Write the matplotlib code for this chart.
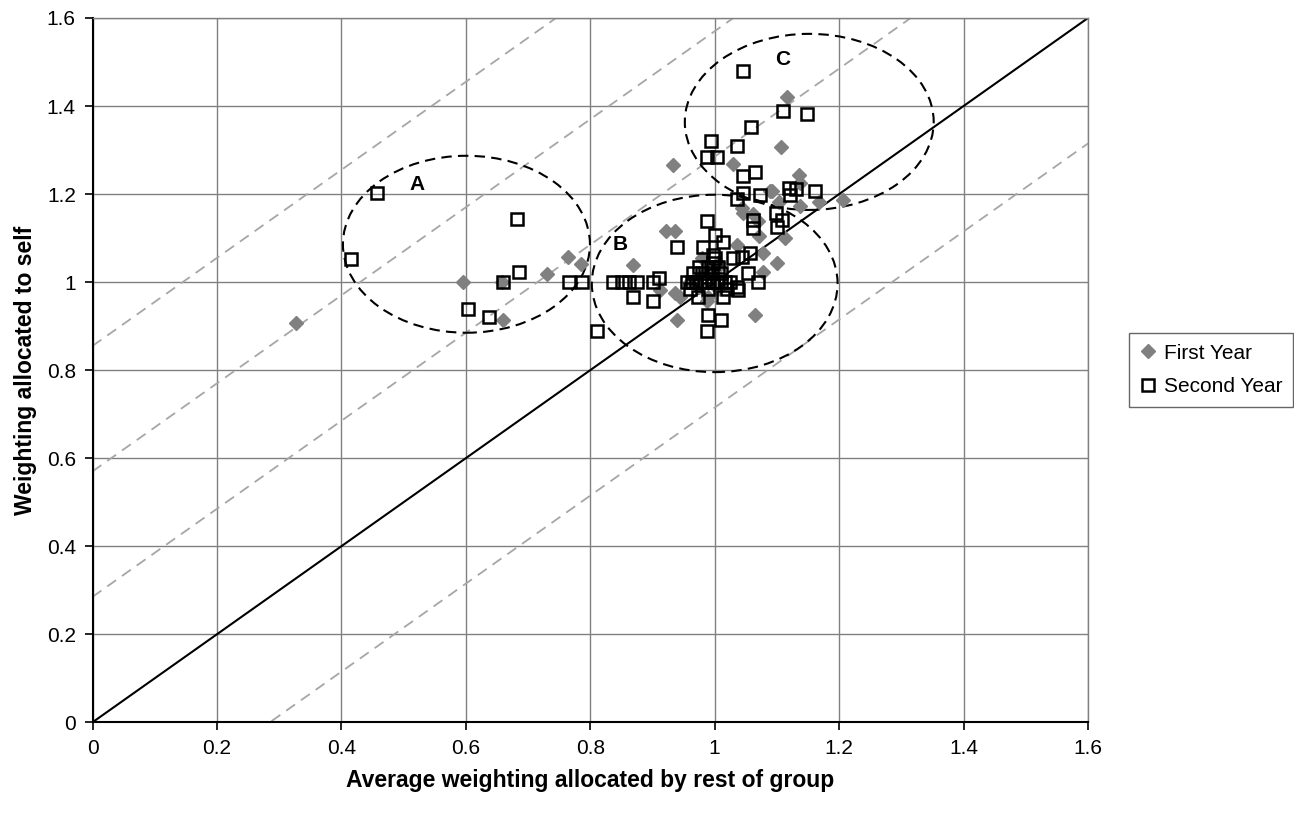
import matplotlib
matplotlib.use("Agg")
import matplotlib.pyplot as plt
from matplotlib.patches import Ellipse
import numpy as np

plt.rcParams['font.family'] = ['Liberation Sans', 'DejaVu Sans']

# First Year (grey diamonds)
first_x = [0.327, 0.595, 0.658, 0.659, 0.730, 0.765, 0.785,
           0.868, 0.912, 0.922, 0.936, 0.936, 0.944, 0.939, 0.933,
           0.980, 0.987, 0.990, 1.006, 1.006, 0.960, 0.985, 1.000, 0.975, 1.005,
           1.030, 1.036, 1.044, 1.045, 1.065, 1.070, 1.072, 1.078, 1.078, 1.089,
           1.092, 1.100, 1.103, 1.106, 1.113, 1.116, 1.135, 1.137, 1.137, 1.167, 1.207, 1.062]
first_y = [0.907, 1.001, 1.001, 0.914, 1.019, 1.057, 1.042,
           1.039, 0.983, 1.117, 1.117, 0.975, 0.967, 0.914, 1.267,
           1.055, 0.956, 0.967, 1.043, 1.035, 1.000, 1.020, 1.010, 0.990, 0.985,
           1.269, 1.085, 1.168, 1.158, 0.926, 1.138, 1.104, 1.066, 1.024, 1.206,
           1.206, 1.043, 1.183, 1.307, 1.100, 1.420, 1.244, 1.225, 1.172, 1.183, 1.187, 1.155]

# Second Year (hollow squares)
second_x = [0.415, 0.457, 0.604, 0.637, 0.659, 0.682, 0.685, 0.766, 0.786, 0.811,
            0.837, 0.851, 0.862, 0.875, 0.868, 0.901, 0.901, 0.910, 0.939, 0.981,
            0.987, 1.001, 1.014, 1.001, 0.973, 1.013, 1.038, 0.990, 1.010, 0.987,
            1.030, 1.044, 1.057, 1.054, 1.070, 1.036, 1.061, 1.061, 1.099, 1.108,
            1.100, 1.045, 1.065, 0.987, 1.003, 1.045, 1.036, 1.073, 1.119, 1.130,
            1.121, 1.162, 1.045, 1.110, 1.148, 1.058, 0.994, 1.036,
            0.955, 0.963, 0.970, 0.977, 0.984, 0.990, 0.997, 1.003, 1.010, 1.017,
            1.024, 0.965, 0.980, 0.995, 1.010, 0.975, 0.990, 1.005, 0.960, 0.990,
            1.020, 0.998, 0.998]
second_y = [1.052, 1.202, 0.939, 0.920, 1.001, 1.143, 1.024, 1.001, 1.001, 0.888,
            1.001, 1.001, 1.001, 1.001, 0.966, 1.001, 0.956, 1.010, 1.080, 1.080,
            1.138, 1.108, 1.092, 1.055, 0.967, 0.967, 0.982, 0.926, 0.914, 0.888,
            1.055, 1.058, 1.066, 1.020, 1.001, 0.990, 1.142, 1.123, 1.156, 1.140,
            1.126, 1.242, 1.251, 1.284, 1.284, 1.202, 1.189, 1.199, 1.214, 1.211,
            1.199, 1.206, 1.479, 1.388, 1.382, 1.352, 1.320, 1.310,
            1.000, 1.000, 1.000, 1.000, 1.000, 1.000, 1.000, 1.000, 1.000, 1.000,
            1.000, 1.020, 1.020, 1.020, 1.020, 1.035, 1.035, 1.035, 0.985, 0.985,
            0.985, 1.062, 1.044]

ticks = [0, 0.2, 0.4, 0.6, 0.8, 1, 1.2, 1.4, 1.6]
tick_labels = ['0', '0.2', '0.4', '0.6', '0.8', '1', '1.2', '1.4', '1.6']

# reference lines y = x + c
band_offsets = [0.855, 0.57, 0.285, -0.285]

# circled groups: name, centre x, centre y, width, height, label x, label y
group_names = ['A', 'B', 'C']
group_cx = [0.601, 1.000, 1.152]
group_cy = [1.086, 0.997, 1.364]
group_w = [0.397, 0.395, 0.400]
group_h = [0.402, 0.403, 0.400]
label_x = [0.521, 0.848, 1.110]
label_y = [1.221, 1.086, 1.505]

fig = plt.figure(figsize=(12.94, 8.14), dpi=100)
ax = fig.add_axes([92.5/1294, (814-722.3)/814, (1088-92.5)/1294, (722.3-18)/814])
ax.set_xlim(0, 1.6)
ax.set_ylim(0, 1.6)

ax.grid(True, color='#808080', lw=1.0, zorder=0)
ax.set_axisbelow(True)
for s in ['top', 'right']:
    ax.spines[s].set_color('#808080')
    ax.spines[s].set_linewidth(1.0)
for s in ['left', 'bottom']:
    ax.spines[s].set_color('black')
    ax.spines[s].set_linewidth(1.5)

xs = np.array([0, 1.6])
for c in band_offsets:
    ax.plot(xs, xs + c, color='#a6a6a6', lw=1.3, dashes=(6, 4), zorder=1)
ax.plot(xs, xs, color='black', lw=1.5, zorder=2)

for cx, cy, w, h in zip(group_cx, group_cy, group_w, group_h):
    ax.add_patch(Ellipse((cx, cy), w, h, fill=False, ec='black', lw=1.5,
                         ls=(0, (5, 3)), zorder=3))
for n, lx, ly in zip(group_names, label_x, label_y):
    ax.text(lx, ly, n, fontsize=15, fontweight='bold', ha='center', va='center', zorder=6)

ax.plot(first_x, first_y, ls='none', marker='D', ms=7.4, mfc='#808080', mec='#808080',
        label='First Year', zorder=4)
ax.plot(second_x, second_y, ls='none', marker='s', ms=9.3, mfc='none', mec='black', mew=1.8,
        label='Second Year', zorder=5)

ax.set_xticks(ticks)
ax.set_xticklabels(tick_labels)
ax.set_yticks(ticks)
ax.set_yticklabels(tick_labels)
ax.tick_params(axis='both', direction='out', length=6, width=1.2, labelsize=15, pad=6)

ax.set_xlabel('Average weighting allocated by rest of group', fontsize=16.5,
              fontweight='bold', labelpad=8)
ax.set_ylabel('Weighting allocated to self', fontsize=16.5, fontweight='bold', labelpad=7)

leg = fig.legend(loc='center left', bbox_to_anchor=(1129/1294, (814-370)/814),
                 fontsize=15, frameon=True, fancybox=False, borderpad=0.5,
                 handlelength=0.8, handletextpad=0.4, labelspacing=0.7, borderaxespad=0)
leg.get_frame().set_edgecolor('#404040')
leg.get_frame().set_linewidth(1.0)

fig.savefig('out.png', dpi=100)
